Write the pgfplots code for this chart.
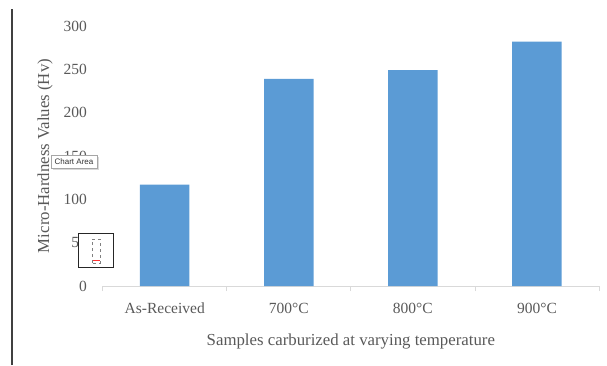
\documentclass[border=0pt]{standalone}
\usepackage{pgfplots}
\pgfplotsset{compat=1.18}
\usepackage{fontspec}
\setmainfont{Liberation Serif}
\newfontfamily\uifont{Liberation Sans}
\definecolor{txt}{HTML}{595959}
\definecolor{barblue}{HTML}{5B9BD5}
\definecolor{axgray}{HTML}{D9D9D9}
\begin{document}
\begin{tikzpicture}
\path[use as bounding box] (0,0) rectangle (607pt,365pt);
\begin{axis}[
  at={(102.7pt,79pt)}, anchor=south west,
  scale only axis, width=496.3pt, height=260pt,
  xmin=-0.5, xmax=3.5, ymin=0, ymax=300,
  axis x line*=bottom, axis y line*=left,
  x axis line style={draw=axgray, line width=0.8pt},
  y axis line style={draw=none},
  xtick={0,1,2,3},
  xticklabels={As-Received,700°C,800°C,900°C},
  minor xtick={-0.5,0.5,1.5,2.5,3.5},
  major x tick style={draw=none},
  minor x tick style={draw=axgray, line width=0.8pt},
  minor tick length=5pt,
  tick align=outside,
  ytick={0,50,100,150,200,250,300},
  ytick style={draw=none},
  /pgf/number format/assume math mode=true,
  ticklabel style={font=\fontsize{15.5}{17}\selectfont, text=txt},
  yticklabel style={xshift=-8pt},
  xticklabel style={yshift=-9pt},
  label style={font=\fontsize{16.8}{19}\selectfont, text=txt},
  xlabel={Samples carburized at varying temperature},
  ylabel={Micro-Hardness Values (Hv)},
  xlabel style={at={(axis description cs:0.5,-0.2115)}, anchor=center},
  ylabel style={at={(axis description cs:-0.1163,0.5)}, anchor=center, rotate=0},
]
\addplot[ybar, bar width=49.5pt, fill=barblue, draw=none] coordinates {
  (0,117) (1,239) (2,249) (3,282)
};
\end{axis}
% left dotted border
\draw[line width=1.6pt, black!75] (12pt,0) -- (12pt,356pt);
% tooltip
\fill[black!15] (53pt,195pt) rectangle (99pt,208pt);
\draw[gray!70, fill=white, line width=0.5pt] (51pt,197pt) rectangle (97pt,210pt);
\node[inner sep=0pt, font=\uifont\fontsize{8}{9}\selectfont, text=black!80]
  at (74pt,203.5pt) {Chart Area};
% small selection box
\draw[black!85, fill=white, line width=0.7pt] (78pt,98pt) rectangle (113pt,132pt);
\draw[gray, dashed, line width=0.4pt] (92pt,102pt) rectangle (100pt,126pt);
\draw[red!80, line width=0.6pt] (92.5pt,105pt) -- (99.5pt,105pt);
\end{tikzpicture}
\end{document}
